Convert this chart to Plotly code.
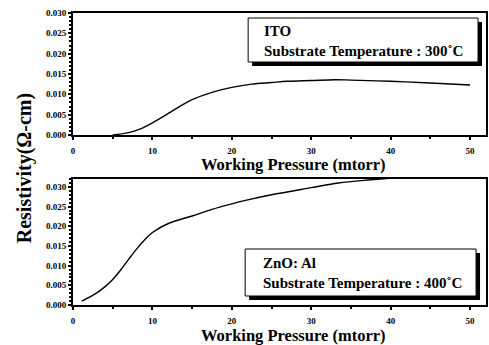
import plotly.graph_objects as go

# ITO (top panel)
ito_p = [5, 7, 8.5, 10, 12, 13.5, 15, 17.5, 20, 22.5, 25, 27, 30, 33, 35, 40, 45, 50]
ito_r = [0.0, 0.0006, 0.0015, 0.0030, 0.0053, 0.0071, 0.0087, 0.0105, 0.0117, 0.0125, 0.0129, 0.0132, 0.0134, 0.0136, 0.0135, 0.0132, 0.0128, 0.0123]

# ZnO:Al (bottom panel)
zno_p = [1.1, 3, 4, 5, 6, 7, 8, 9, 10, 12, 15, 17.5, 20, 22, 25, 30, 33.4, 37.5, 40, 45, 50]
zno_r = [0.0010, 0.0031, 0.0046, 0.0065, 0.0089, 0.0116, 0.0142, 0.0165, 0.0184, 0.0207, 0.0226, 0.0243, 0.0257, 0.0267, 0.0280, 0.0298, 0.0310, 0.0318, 0.0322, 0.0330, 0.0336]

x_ticks = [0, 10, 20, 30, 40, 50]
y_ticks = [0.000, 0.005, 0.010, 0.015, 0.020, 0.025, 0.030]

W, H = 489, 345
L, R, T, B = 73, 1, 13, 40
pw, ph = W - L - R, H - T - B

def px(x):
    return (x - L) / pw

def py(y):
    return (H - B - y) / ph

SERIF = "Liberation Serif, Times New Roman, serif"

fig = go.Figure()
fig.add_trace(go.Scatter(x=ito_p, y=ito_r, mode="lines", line=dict(color="black", width=1.4, shape="spline"),
                         xaxis="x", yaxis="y", showlegend=False))
fig.add_trace(go.Scatter(x=zno_p, y=zno_r, mode="lines", line=dict(color="black", width=1.4, shape="spline"),
                         xaxis="x2", yaxis="y2", showlegend=False))

axis_common = dict(showline=True, linecolor="black", linewidth=2, mirror=True, showgrid=False, zeroline=False,
                   ticks="outside", ticklen=3, tickwidth=1.5, tickcolor="black",
                   tickfont=dict(family=SERIF, size=9, color="black", weight="bold"))

xa = dict(axis_common, range=[0, 52], tickvals=x_ticks, ticktext=[str(v) for v in x_ticks],
          ticklabelstandoff=3,
          minor=dict(dtick=5, tick0=0, ticks="outside", ticklen=2, tickcolor="black"))
ya_top = dict(axis_common, range=[0, 0.030], tickvals=y_ticks, ticktext=[f"{v:.3f}" for v in y_ticks],
              minor=dict(dtick=0.001, tick0=0, ticks="outside", ticklen=2, tickcolor="black"))
ya_bot = dict(axis_common, range=[0, 0.032], tickvals=y_ticks, ticktext=[f"{v:.3f}" for v in y_ticks],
              minor=dict(dtick=0.001, tick0=0, ticks="outside", ticklen=2, tickcolor="black"))

top_lo = py(135)
bot_hi = py(179)

fig.update_layout(
    width=W, height=H, margin=dict(l=L, r=R, t=T, b=B),
    plot_bgcolor="white", paper_bgcolor="white",
    xaxis=dict(xa, domain=[0, 1], anchor="y"),
    yaxis=dict(ya_top, domain=[top_lo, 1], anchor="x"),
    xaxis2=dict(xa, domain=[0, 1], anchor="y2"),
    yaxis2=dict(ya_bot, domain=[0, bot_hi], anchor="x2"),
)

shapes = []
annots = []

def box(x0, y0, x1, y1, off=4):
    shapes.append(dict(type="rect", xref="paper", yref="paper", x0=px(x0 + off), x1=px(x1 + off), y0=py(y1 + off), y1=py(y0 + off),
                       fillcolor="black", line=dict(width=0)))
    shapes.append(dict(type="rect", xref="paper", yref="paper", x0=px(x0), x1=px(x1), y0=py(y1), y1=py(y0),
                       fillcolor="white", line=dict(color="black", width=1)))

box(249, 18, 480, 62)
box(246, 249, 478, 296)

def text(x, y, s, size=15):
    annots.append(dict(xref="paper", yref="paper", x=px(x), y=py(y), text=s, showarrow=False,
                       xanchor="left", yanchor="middle", font=dict(family=SERIF, size=size, color="black", weight="bold")))

text(263, 31, "ITO")
text(263, 51, "Substrate Temperature : 300˚C")
text(262, 263, "ZnO: Al")
text(262, 283, "Substrate Temperature : 400˚C")

for yy in (164, 335):
    annots.append(dict(xref="paper", yref="paper", x=px(295), y=py(yy), text="Working Pressure (mtorr)",
                       showarrow=False, xanchor="center", yanchor="middle",
                       font=dict(family=SERIF, size=16.5, color="black", weight="bold")))

annots.append(dict(xref="paper", yref="paper", x=px(24), y=py(168), text="Resistivity(Ω-cm)",
                   showarrow=False, xanchor="center", yanchor="middle", textangle=-90,
                   font=dict(family=SERIF, size=20, color="black", weight="bold")))

fig.update_layout(shapes=shapes, annotations=annots)
fig.write_html("out.html")
